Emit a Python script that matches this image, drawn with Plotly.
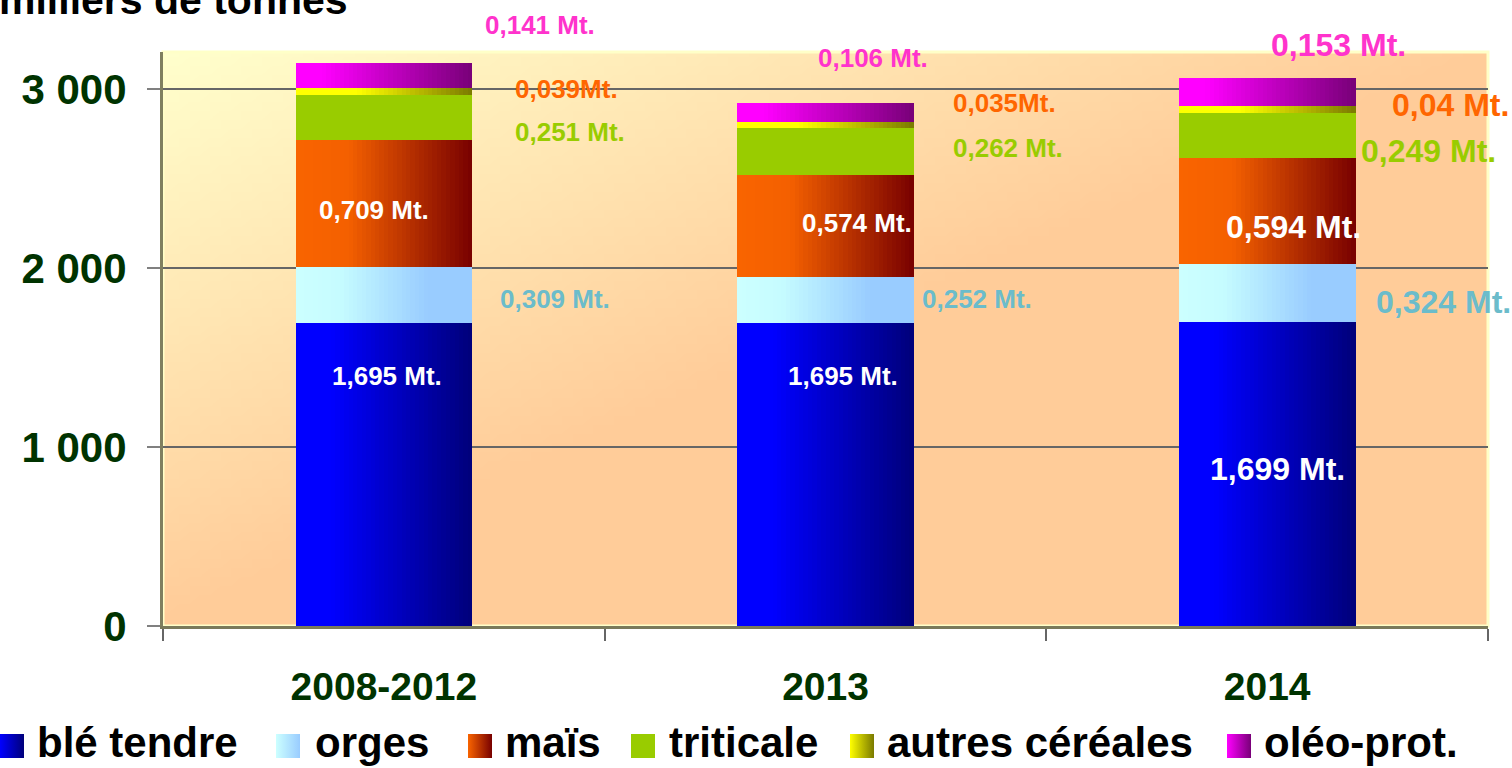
import base64
import struct
import zlib

import plotly.graph_objects as go

# ---------------- data ----------------
categories = ["2008-2012", "2013", "2014"]
series_names = ["blé tendre", "orges", "maïs", "triticale", "autres céréales", "oléo-prot."]
ble_tendre = [1695, 1695, 1699]
orges = [309, 252, 324]
mais = [709, 574, 594]
triticale = [251, 262, 249]
autres_cereales = [39, 35, 40]
oleo_prot = [141, 106, 153]

lab_ble = ["1,695 Mt.", "1,695 Mt.", "1,699 Mt."]
lab_orges = ["0,309 Mt.", "0,252 Mt.", "0,324 Mt."]
lab_mais = ["0,709 Mt.", "0,574 Mt.", "0,594 Mt."]
lab_triticale = ["0,251 Mt.", "0,262 Mt.", "0,249 Mt."]
lab_autres = ["0,039Mt.", "0,035Mt.", "0,04 Mt."]
lab_oleo = ["0,141 Mt.", "0,106 Mt.", "0,153 Mt."]

y_tickvals = [0, 1000, 2000, 3000]
y_ticktext = ["0", "1 000", "2 000", "3 000"]
y_title = "milliers de tonnes"

values = [ble_tendre, orges, mais, triticale, autres_cereales, oleo_prot]
labels = [lab_ble, lab_orges, lab_mais, lab_triticale, lab_autres, lab_oleo]

# ---------------- styles / layout ----------------
W, H = 1512, 768
PL, PR, PT, PB = 163, 1488, 52, 626       # plot area in pixels
FONT = "Liberation Sans, Arial, sans-serif"
DARK_GREEN = "#003300"

grad_stops = [
    [(0, "#0000FF"), (0.2, "#0000FF"), (1, "#00007A")],
    [(0, "#CCFFFF"), (0.25, "#C6FCFF"), (0.75, "#99CCFF"), (1, "#99CCFF")],
    [(0, "#F96400"), (0.3, "#F46000"), (1, "#780000")],
    [(0, "#99CC00"), (1, "#99CC00")],
    [(0, "#FFFF00"), (0.35, "#FFFF00"), (1, "#7A7A00")],
    [(0, "#FF00FF"), (0.15, "#FF00FF"), (1, "#780078")],
]
label_colors = ["#FFFFFF", "#6BBCCB", "#FFFFFF", "#99CC00", "#FF6600", "#FF33CC"]
label_sizes = [26, 26, 32]
label_px = [
    [(387, 376), (843, 376), (1277, 469)],
    [(555, 299), (977, 299), (1443, 302)],
    [(374, 210), (857, 223), (1293, 227)],
    [(570, 132), (1008, 148), (1428, 151)],
    [(566, 89), (1004, 103), (1450, 105)],
    [(540, 25), (873, 58), (1338, 45)],
]
legend_square_x = [12, 288, 480, 643, 862, 1239]
legend_text_x = [35, 313, 503, 667, 885, 1262]
legend_square_y = 746
legend_text_y = 742

BAR_HALF = 0.2
N_STRIPS = 40


def hex2rgb(h):
    h = h.lstrip("#")
    return tuple(int(h[i:i + 2], 16) for i in (0, 2, 4))


def interp(stops, t):
    for (t0, c0), (t1, c1) in zip(stops[:-1], stops[1:]):
        if t0 <= t <= t1:
            a = 0 if t1 == t0 else (t - t0) / (t1 - t0)
            r0, r1 = hex2rgb(c0), hex2rgb(c1)
            return "rgb(%d,%d,%d)" % tuple(round(r0[k] + (r1[k] - r0[k]) * a) for k in range(3))
    return stops[-1][1]


def fx(px):
    return px / W


def fy(py):
    return 1 - py / H


def make_png(w, h):
    c0 = (255, 255, 204)
    c1 = (255, 204, 153)
    raw = b""
    for j in range(h):
        row = b"\x00"
        yn = j / (h - 1)
        for i in range(w):
            xn = i / (w - 1)
            s = min(1.0, xn + yn)
            row += bytes(round(c0[k] + (c1[k] - c0[k]) * s) for k in range(3))
        raw += row

    def chunk(tag, data):
        return struct.pack(">I", len(data)) + tag + data + struct.pack(">I", zlib.crc32(tag + data) & 0xFFFFFFFF)

    png = b"\x89PNG\r\n\x1a\n"
    png += chunk(b"IHDR", struct.pack(">IIBBBBB", w, h, 8, 2, 0, 0, 0))
    png += chunk(b"IDAT", zlib.compress(raw, 9))
    png += chunk(b"IEND", b"")
    return "data:image/png;base64," + base64.b64encode(png).decode()


fig = go.Figure()

# stacked bars as thin vertical strips (horizontal gradient)
bases = [0, 0, 0]
for si, vals in enumerate(values):
    stops = grad_stops[si]
    solid = len(stops) == 2 and stops[0][1] == stops[1][1]
    n = 1 if solid else N_STRIPS
    w = 2 * BAR_HALF / n
    for i in range(n):
        start = -BAR_HALF + i * w
        width = min(w * 1.6, BAR_HALF - start)
        col = interp(stops, (i + 0.5) / n)
        fig.add_trace(go.Bar(
            x=categories, y=vals, base=list(bases),
            offset=start, width=width,
            marker=dict(color=col, line=dict(width=0)),
            showlegend=False, hoverinfo="skip", name=series_names[si],
        ))
    bases = [b + v for b, v in zip(bases, vals)]

# legend squares on a full-figure pixel-coordinate subplot
for si, name in enumerate(series_names):
    stops = grad_stops[si]
    fig.add_trace(go.Scatter(
        x=[legend_square_x[si]], y=[legend_square_y],
        xaxis="x2", yaxis="y2", mode="markers", cliponaxis=False,
        marker=dict(symbol="square", size=24, color=stops[0][1],
                    gradient=dict(type="horizontal", color=stops[-1][1]),
                    line=dict(width=0)),
        showlegend=False, hoverinfo="skip", name=name,
    ))

annotations = []
for si in range(len(series_names)):
    for ci in range(len(categories)):
        x, y = label_px[si][ci]
        annotations.append(dict(
            x=fx(x), y=fy(y), xref="paper", yref="paper",
            text=labels[si][ci], showarrow=False,
            xanchor="center", yanchor="middle",
            font=dict(family=FONT, size=label_sizes[ci], color=label_colors[si], weight="bold"),
        ))
for si, name in enumerate(series_names):
    annotations.append(dict(
        x=fx(legend_text_x[si]), y=fy(legend_text_y), xref="paper", yref="paper",
        text=name, showarrow=False, xanchor="left", yanchor="middle",
        font=dict(family=FONT, size=42, color="#000000", weight="bold"),
    ))
annotations.append(dict(
    x=fx(350), y=fy(0), xref="paper", yref="paper",
    text=y_title, showarrow=False, xanchor="right", yanchor="middle",
    font=dict(family=FONT, size=41, color="#000000", weight="bold"),
))

fig.update_layout(
    width=W, height=H, autosize=False,
    margin=dict(l=0, r=0, t=0, b=0, pad=0, autoexpand=False),
    paper_bgcolor="white", plot_bgcolor="rgba(0,0,0,0)",
    barmode="overlay", bargap=0,
    showlegend=False,
    font=dict(family=FONT),
    images=[dict(source=make_png(128, 64), xref="paper", yref="paper",
                 x=fx(PL), y=fy(PT), sizex=(PR - PL) / W, sizey=(PB - PT) / H,
                 xanchor="left", yanchor="top", sizing="stretch", layer="below")],
    shapes=[dict(type="rect", xref="paper", yref="paper",
                 x0=fx(PL), x1=fx(PR), y0=fy(PB), y1=fy(PT),
                 line=dict(color="#FFFFC8", width=3), layer="below")],
    annotations=annotations,
    xaxis=dict(
        domain=[fx(PL), fx(PR)], automargin=False,
        type="category", range=[-0.5, 2.5], tickson="boundaries",
        ticks="outside", ticklen=12, tickwidth=2, tickcolor="#666666",
        showline=True, linecolor="#7A7A5A", linewidth=3,
        showgrid=False, zeroline=False, ticklabelstandoff=24,
        tickfont=dict(family=FONT, size=39, color=DARK_GREEN, weight="bold"),
        fixedrange=True,
    ),
    yaxis=dict(
        domain=[fy(PB), fy(PT)], automargin=False,
        range=[0, (PB - PT) / 0.179], tickvals=y_tickvals, ticktext=y_ticktext,
        ticks="outside", ticklen=13, tickwidth=2, tickcolor="#808080",
        showline=True, linecolor="#7F7F5F", linewidth=3,
        showgrid=True, gridcolor="#666666", gridwidth=1.5, zeroline=False,
        ticklabelstandoff=12,
        tickfont=dict(family=FONT, size=42, color=DARK_GREEN, weight="bold"),
        fixedrange=True,
    ),
    xaxis2=dict(domain=[0, 1], range=[0, W], visible=False, fixedrange=True,
                anchor="y2", automargin=False),
    yaxis2=dict(domain=[0, 1], range=[H, 0], visible=False, fixedrange=True,
                anchor="x2", automargin=False),
)

fig.write_html("out.html", config={"displayModeBar": False},
               post_script="document.body.style.margin='0px';document.body.style.overflow='hidden';")
